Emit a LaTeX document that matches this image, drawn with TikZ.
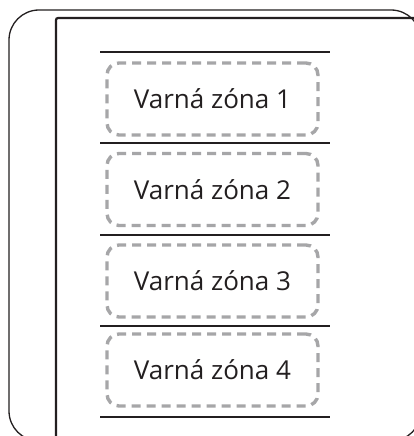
\documentclass[tikz,border=0pt]{standalone}
\usepackage{fontspec}
\setmainfont{Open Sans}
\definecolor{dashgray}{HTML}{A6A6A8}
\definecolor{ink}{HTML}{231F20}
\begin{document}
\begin{tikzpicture}[x=1pt,y=-1pt,
  zonebox/.style={draw=dashgray, line width=3.4pt, dash pattern=on 9pt off 6pt,
    rounded corners=12pt, minimum width=211pt, minimum height=72pt,
    inner sep=0pt, text=ink, font=\fontsize{26}{30}\selectfont},
  sepline/.style={ink, line width=2pt},
  outerframe/.style={ink, line width=1.3pt, rounded corners=30pt},
  innerframe/.style={ink, line width=2.2pt, rounded corners=2pt}]
\clip (0,0) rectangle (414,436);
\fill[white] (0,0) rectangle (414,436);
\draw[outerframe] (9,10) rectangle (421,441);
\draw[innerframe] (56,470) -- (56,18) -- (460,18);
\foreach \i in {0,...,4}{
  \draw[sepline] (100,{52+91.25*\i}) -- (330,{52+91.25*\i});
}
\node[zonebox] (z1) at (212.5,99) {Varná zóna 1};
\node[zonebox] (z2) at (212.5,{99+90.5}) {Varná zóna 2};
\node[zonebox] (z3) at (212.5,{99+2*90.5+1}) {Varná zóna 3};
\node[zonebox] (z4) at (212.5,370) {Varná zóna 4};
\end{tikzpicture}
\end{document}
